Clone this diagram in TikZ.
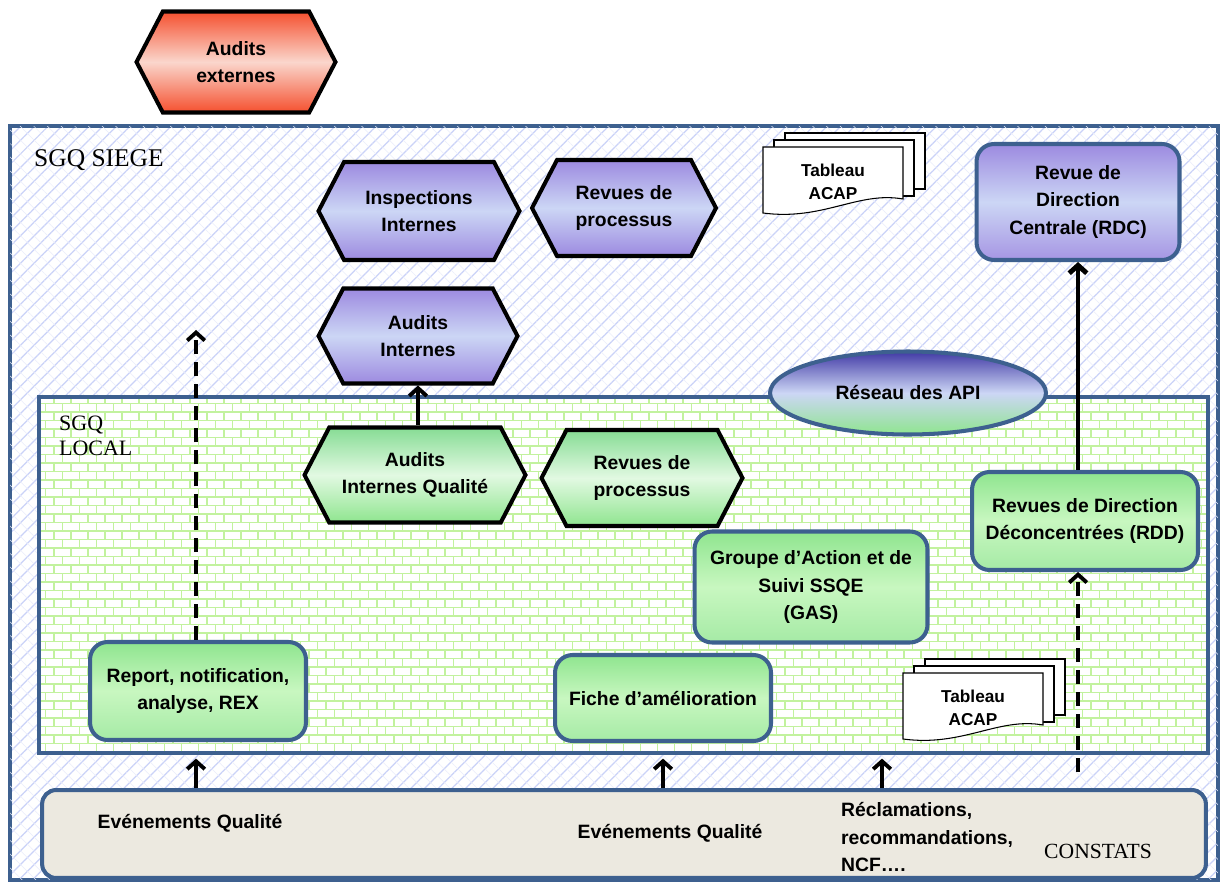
\documentclass[tikz,border=0pt]{standalone}
\usepackage{fontspec}
\setmainfont{Liberation Sans}
\newfontfamily\timesfont{Liberation Serif}
\usetikzlibrary{arrows.meta,shapes.symbols,shapes.geometric,patterns.meta,positioning}

\definecolor{frameblue}{HTML}{3D608F}
\definecolor{hatch}{HTML}{CAD2F8}
\definecolor{mortar}{HTML}{C2F29E}
\definecolor{purpleedge}{HTML}{9C8AE0}
\definecolor{purplemid}{HTML}{CCD6F5}
\definecolor{greenedge}{HTML}{86DC94}
\definecolor{greenmid}{HTML}{E2F9E2}
\definecolor{boxgreen}{HTML}{8FE58F}
\definecolor{boxgreenmid}{HTML}{C8F7C0}
\definecolor{rededge}{HTML}{F5502F}
\definecolor{redmid}{HTML}{FAD6CC}
\definecolor{basegrey}{HTML}{ECE9E0}

\tikzset{
  lab/.style={font=\fontsize{11}{15.5}\selectfont\bfseries, align=center},
  hexa/.style={lab, signal, signal to=west and east, signal pointer angle=125,
    draw=black, line width=2.3pt, inner sep=0pt},
  purplehex/.style={hexa, top color=purpleedge, bottom color=purpleedge, middle color=purplemid},
  greenhex/.style={hexa, top color=greenedge, bottom color=boxgreen, middle color=greenmid},
  redhex/.style={hexa, top color=rededge, bottom color=rededge, middle color=redmid},
  box/.style={lab, draw=frameblue, line width=2.3pt, rounded corners=10pt, inner sep=0pt},
  greenbox/.style={box, top color=boxgreen, bottom color=boxgreen!80, middle color=boxgreenmid},
  bluebox/.style={box, top color=purpleedge, bottom color=purpleedge!90, middle color=purplemid},
  frame/.style={draw=frameblue, line width=2.3pt},
  brick/.style={draw=mortar, line width=1.1pt},
  arr/.style={line width=2.2pt, -{Straight Barb[length=4.5pt,width=10pt]}},
  dasharr/.style={arr, dash pattern=on 8pt off 4.5pt},
  doc/.style={draw=black, line width=.6pt, fill=white},
  acap/.pic={
    \foreach \d in {2,1}
      \draw[doc] (11*\d,-7*\d) rectangle ++(140,56);
    \draw[doc] (0,0) -- (140,0) -- (140,52) .. controls (95,44) and (60,74) .. (0,66) -- cycle;
    \node[lab, font=\fontsize{9.8}{13}\selectfont\bfseries] (-txt) at (70,35) {Tableau\\ACAP};
  }
}

\begin{document}
\begin{tikzpicture}[x=0.02cm, y=-0.02cm]
\useasboundingbox (0,0) rectangle (1222,885);

% cadres
\node[frame, minimum width=24.16cm, minimum height=15.08cm, preaction={fill=white},
  pattern={Lines[angle=45,distance=5.5pt,line width=.7pt]}, pattern color=hatch,
  postaction={pattern={Lines[angle=-45,distance=5.5pt,line width=.3pt]}, pattern color=hatch!40}]
  (siege) at (614,503) {};
\node[fill=white, minimum width=23.38cm, minimum height=7.12cm, inner sep=0pt] (local) at (623.5,575) {};
\begin{scope}
  \clip (local.south west) rectangle (local.north east);
  \foreach \k in {0,...,42}
    \draw[brick] (37,395+8.5*\k) -- (1210,395+8.5*\k);
  \foreach \k in {0,...,69} {
    \draw[brick, dash pattern=on .17cm off .17cm] (37+17*\k,395) -- ++(0,360);
    \draw[brick, dash pattern=on .17cm off .17cm, dash phase=.17cm] (45.5+17*\k,395) -- ++(0,360);
  }
\end{scope}
\draw[frame] (local.south west) rectangle (local.north east);
\node[frame, fill=basegrey, rounded corners=8pt, minimum width=23.28cm, minimum height=1.76cm] (base) at (624,834) {};

\node[anchor=west, font=\timesfont\fontsize{14.5}{16}\selectfont] (siegetxt) at (28,160) {SGQ SIEGE};
\node[anchor=west, align=left, font=\timesfont\fontsize{12.5}{14}\selectfont] (localtxt) at (53,436) {SGQ\\LOCAL};

% hexagones
\node[redhex, minimum width=3.98cm, minimum height=2.02cm] (audext) at (236,62) {Audits\\externes};
\node[purplehex, minimum width=4.02cm, minimum height=1.96cm] (inspint) at (419,211) {Inspections\\Internes};
\node[purplehex, minimum width=3.68cm, minimum height=1.92cm] (revsiege) at (624,208) {Revues de\\processus};
\node[purplehex, minimum width=3.98cm, minimum height=1.9cm] (audint) at (418,336) {Audits\\Internes};
\node[greenhex, minimum width=4.42cm, minimum height=1.9cm] (audintq) at (415,475) {Audits\\Internes Qualité};
\node[greenhex, minimum width=4.02cm, minimum height=1.92cm] (revlocal) at (642,478) {Revues de\\processus};

% boites
\node[ellipse, draw=frameblue, line width=2.3pt, lab, top color=purpleedge!60!blue!70!black, bottom color=boxgreen,
  middle color=purplemid, minimum width=5.52cm, minimum height=1.66cm, inner sep=0pt] (api) at (908,393) {Réseau des API};
\node[bluebox, minimum width=4.06cm, minimum height=2.32cm] (rdc) at (1078,202) {Revue de\\Direction\\Centrale (RDC)};
\node[greenbox, minimum width=4.52cm, minimum height=1.96cm] (rdd) at (1085,521) {Revues de Direction\\Déconcentrées (RDD)};
\node[greenbox, minimum width=4.66cm, minimum height=2.22cm] (gas) at (811,587) {Groupe d’Action et de\\Suivi SSQE\\(GAS)};
\node[greenbox, minimum width=4.32cm, minimum height=1.72cm] (fiche) at (663,698) {Fiche d’amélioration};
\node[greenbox, minimum width=4.32cm, minimum height=1.96cm] (report) at (198,691) {Report, notification,\\analyse, REX};

\pic (acaptop) at (763,147) {acap};
\pic (acapbot) at (903,673) {acap};

% textes du bas
\node[lab] (evq1) at (190,823) {Evénements Qualité};
\node[lab] (evq2) at (670,833) {Evénements Qualité};
\node[lab, align=left, anchor=west] (recl) at (835,837) {Réclamations,\\recommandations,\\NCF….};
\node[font=\timesfont\fontsize{12.3}{14}\selectfont] (constats) at (1098,851) {CONSTATS};

% fleches
\coordinate (repup) at (196,330);
\coordinate (reclup) at (882,788);
\coordinate (constup) at (1078,772);
\draw[arr] (audintq.north -| audint) -- (audint.south);
\draw[arr, line width=2.8pt] (rdd.north -| rdc) -- (rdc.south);
\draw[dasharr] (report.north -| repup) -- (repup);
\draw[dasharr] (constup) -- (constup |- rdd.south);
\draw[arr] (base.north -| repup) -- ([yshift=-3pt]local.south -| repup);
\draw[arr] (base.north -| fiche) -- ([yshift=-3pt]local.south -| fiche);
\draw[arr] (reclup) -- ([yshift=-3pt]local.south -| reclup);
\end{tikzpicture}
\end{document}
